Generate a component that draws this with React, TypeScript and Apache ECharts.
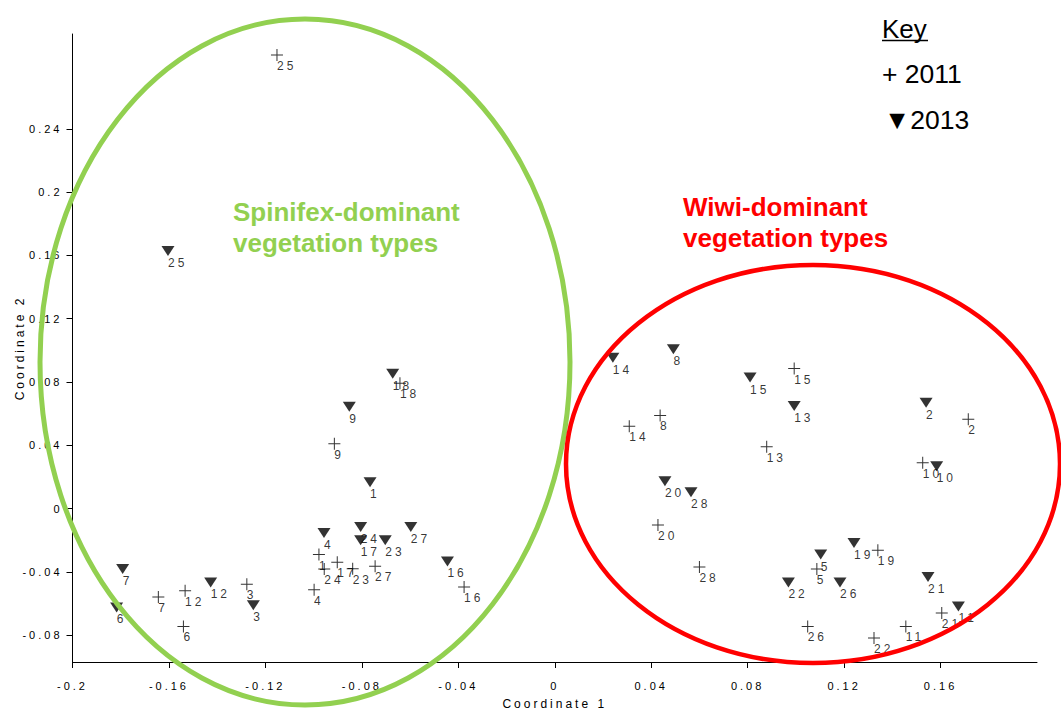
import React, { useEffect, useRef } from "react";
import * as echarts from "echarts";

// Site identifiers (1..28)
const siteIds = [
  "1", "2", "3", "4", "5", "6", "7", "8", "9", "10", "11", "12", "13", "14",
  "15", "16", "17", "18", "19", "20", "21", "22", "23", "24", "25", "26", "27", "28",
];

// 2011 survey (+)
const coord1_2011 = [
  -0.0978, 0.1715, -0.1277, -0.0998, 0.1087, -0.154, -0.1644, 0.0437, -0.0914, 0.1526,
  0.1456, -0.1533, 0.0879, 0.0309, 0.0993, -0.0376, -0.0902, -0.0642, 0.134, 0.0428,
  0.1605, 0.1324, -0.0838, -0.0956, -0.1152, 0.1049, -0.0745, 0.06,
];
const coord2_2011 = [
  -0.0291, 0.0564, -0.0478, -0.0513, -0.0382, -0.0745, -0.0559, 0.0589, 0.041, 0.0289,
  -0.0745, -0.0519, 0.0391, 0.0521, 0.0885, -0.0496, -0.034, 0.0792, -0.0264, -0.0104,
  -0.0661, -0.0819, -0.038, -0.0382, 0.2868, -0.0745, -0.0365, -0.0369,
];

// 2013 survey (▼)
const coord1_2013 = [
  -0.0766, 0.154, -0.125, -0.0957, 0.1103, -0.1817, -0.1792, 0.0492, -0.0852, 0.1584,
  0.1674, -0.1427, 0.0993, 0.0241, 0.081, -0.0445, -0.0805, -0.0672, 0.1241, 0.0457,
  0.1548, 0.0969, -0.0703, -0.0805, -0.1604, 0.1183, -0.0597, 0.0565,
];
const coord2_2013 = [
  0.0167, 0.0669, -0.0611, -0.0154, -0.0291, -0.0625, -0.0382, 0.1007, 0.0644, 0.0268,
  -0.0619, -0.0467, 0.0648, 0.0954, 0.0828, -0.0334, -0.0201, 0.0852, -0.0217, 0.0173,
  -0.0433, -0.0467, -0.0201, -0.0116, 0.1628, -0.0467, -0.0116, 0.0103,
];

const xTickValues = [-0.2, -0.16, -0.12, -0.08, -0.04, 0, 0.04, 0.08, 0.12, 0.16];
const yTickValues = [-0.08, -0.04, 0, 0.04, 0.08, 0.12, 0.16, 0.2, 0.24];

const xRange = [-0.2, 0.2];
const yRange = [-0.097, 0.3];

const SPACED_FONT = "Liberation Sans";
const PLAIN_FONT = "Arial";

const PLUS_PATH = "path://M0,5.5H12V6.5H0Z M5.5,0H6.5V12H5.5Z";
const TRI_DOWN_PATH = "path://M0,0L13,0L6.5,10Z";

export default function App() {
  const ref = useRef<HTMLDivElement>(null);

  useEffect(() => {
    document.body.style.margin = "0";
    if (!ref.current) return;
    const chart = echarts.init(ref.current, undefined, { renderer: "svg" });

    const data2011 = siteIds.map((id, i) => [coord1_2011[i], coord2_2011[i], id]);
    const data2013 = siteIds.map((id, i) => [coord1_2013[i], coord2_2013[i], id]);

    const labelBase = {
      show: true,
      formatter: (p: any) => p.data[2],
      color: "#000",
      fontSize: 12,
      fontFamily: SPACED_FONT,
      align: "left",
      verticalAlign: "middle",
    };

    const axisLabelStyle = {
      color: "#000",
      fontSize: 11,
      fontFamily: SPACED_FONT,
    };

    const plainText = (text: string, x: number, y: number, font: string, fill: string, extra: any = {}) => ({
      type: "text",
      z: 101,
      x,
      y,
      style: {
        text,
        fill,
        font,
        align: "left",
        verticalAlign: "middle",
        textAlign: "left",
        textVerticalAlign: "middle",
        ...extra,
      },
    });

    chart.setOption({
      animation: false,
      backgroundColor: "#fff",
      grid: {
        left: 72.5,
        right: 24,
        top: 34,
        bottom: 49,
        containLabel: false,
        outerBoundsMode: "none",
      },
      xAxis: {
        type: "value",
        min: xRange[0],
        max: xRange[1],
        name: "Coordinate 1",
        nameLocation: "middle",
        nameGap: 36,
        nameTextStyle: { color: "#000", fontSize: 12, fontFamily: SPACED_FONT },
        axisLine: { show: true, onZero: false, lineStyle: { color: "#000", width: 1 } },
        axisTick: { show: true, length: 6, customValues: xTickValues, lineStyle: { color: "#000" } },
        axisLabel: { ...axisLabelStyle, margin: 18, customValues: xTickValues },
        splitLine: { show: false },
      },
      yAxis: {
        type: "value",
        min: yRange[0],
        max: yRange[1],
        name: "Coordinate 2",
        nameLocation: "middle",
        nameGap: 47,
        nameTextStyle: { color: "#000", fontSize: 12, fontFamily: SPACED_FONT },
        axisLine: { show: true, onZero: false, lineStyle: { color: "#000", width: 1 } },
        axisTick: { show: true, length: 6, customValues: yTickValues, lineStyle: { color: "#000" } },
        axisLabel: { ...axisLabelStyle, margin: 10, customValues: yTickValues },
        splitLine: { show: false },
      },
      series: [
        {
          name: "2011",
          type: "scatter",
          data: data2011,
          symbol: PLUS_PATH,
          symbolSize: 12,
          itemStyle: { color: "#000" },
          label: { ...labelBase, position: [6, 17] },
          z: 3,
        },
        {
          name: "2013",
          type: "scatter",
          data: data2013,
          symbol: TRI_DOWN_PATH,
          symbolSize: [13, 10],
          itemStyle: { color: "#000" },
          label: { ...labelBase, position: [6.5, 17] },
          z: 3,
        },
      ],
      graphic: [
        {
          type: "ellipse",
          z: 100,
          silent: true,
          shape: { cx: 305, cy: 362, rx: 265, ry: 343 },
          style: { fill: "none", stroke: "#92D050", lineWidth: 5 },
        },
        {
          type: "ellipse",
          z: 100,
          silent: true,
          shape: { cx: 813, cy: 464, rx: 247, ry: 199 },
          style: { fill: "none", stroke: "#FF0000", lineWidth: 4.5 },
        },
        plainText("Spinifex-dominant\nvegetation types", 233, 227.5, `bold 26px ${PLAIN_FONT}`, "#92D050", { lineHeight: 31 }),
        plainText("Wiwi-dominant\nvegetation types", 683, 222.5, `bold 26px ${PLAIN_FONT}`, "#FF0000", { lineHeight: 31 }),
        plainText("Key", 882, 29, `26px ${PLAIN_FONT}`, "#000"),
        {
          type: "line",
          z: 101,
          shape: { x1: 882, y1: 40.5, x2: 928, y2: 40.5 },
          style: { stroke: "#000", lineWidth: 1.5 },
        },
        plainText("+ 2011", 882, 73.5, `26.5px ${PLAIN_FONT}`, "#000"),
        plainText("▼2013", 884, 120, `26.5px ${PLAIN_FONT}`, "#000"),
      ],
    });

    return () => chart.dispose();
  }, []);

  return (
    <div>
      <style>{`
        #chartbox text[style*="Liberation"], #chartbox text[font-family*="Liberation"] { letter-spacing: 3px; }
      `}</style>
      <div id="chartbox" ref={ref} style={{ width: 1061, height: 711 }} />
    </div>
  );
}
